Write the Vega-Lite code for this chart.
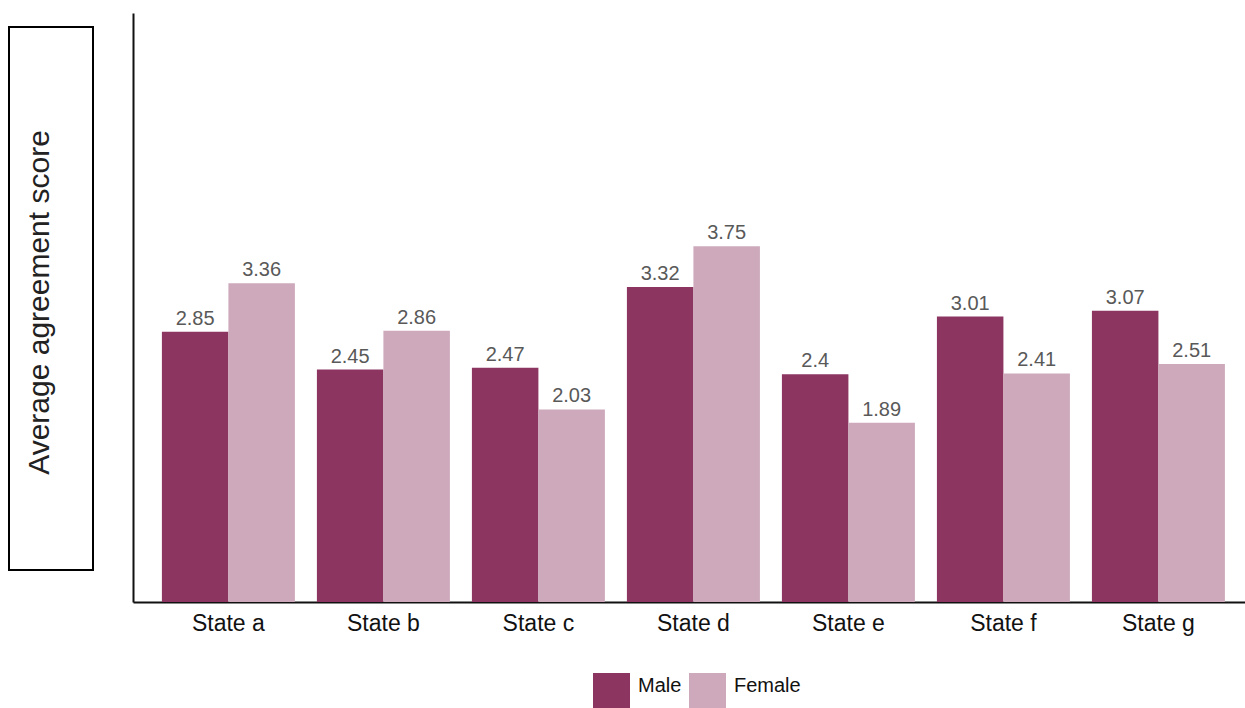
{
  "$schema": "https://vega.github.io/schema/vega-lite/v6.json",
  "padding": {"left": 8, "top": 13, "right": 0, "bottom": 0},
  "background": "white",
  "config": {
    "font": "Liberation Sans",
    "view": {"stroke": null},
    "concat": {"spacing": 39}
  },
  "datasets": {
    "scores": [
      {"state": "State a", "sex": "Male", "score": 2.85},
      {"state": "State a", "sex": "Female", "score": 3.36},
      {"state": "State b", "sex": "Male", "score": 2.45},
      {"state": "State b", "sex": "Female", "score": 2.86},
      {"state": "State c", "sex": "Male", "score": 2.47},
      {"state": "State c", "sex": "Female", "score": 2.03},
      {"state": "State d", "sex": "Male", "score": 3.32},
      {"state": "State d", "sex": "Female", "score": 3.75},
      {"state": "State e", "sex": "Male", "score": 2.4},
      {"state": "State e", "sex": "Female", "score": 1.89},
      {"state": "State f", "sex": "Male", "score": 3.01},
      {"state": "State f", "sex": "Female", "score": 2.41},
      {"state": "State g", "sex": "Male", "score": 3.07},
      {"state": "State g", "sex": "Female", "score": 2.51}
    ],
    "ytitle": [{"label": "Average agreement score"}]
  },
  "hconcat": [
    {
      "spacing": 12,
      "vconcat": [
        {
          "width": 84,
          "height": 1,
          "data": {"values": []},
          "mark": {"type": "text", "text": ""},
          "encoding": {}
        },
        {
          "width": 84,
          "height": 543,
          "view": {"stroke": "black", "strokeWidth": 2},
          "data": {"name": "ytitle"},
          "mark": {"type": "text", "angle": 270, "align": "center", "baseline": "alphabetic", "fontSize": 30, "color": "#222222", "dx": -4, "dy": -2},
          "encoding": {"text": {"field": "label", "type": "nominal"}}
        }
      ]
    },
    {
      "width": 1112,
      "height": 589,
      "data": {"name": "scores"},
      "encoding": {
        "x": {
          "field": "state", "type": "nominal", "title": null,
          "scale": {"paddingInner": 0.142, "paddingOuter": 0.158, "align": 0.59},
          "axis": {"domainColor": "#111111", "domainWidth": 2, "ticks": false, "labelAngle": 0, "labelFontSize": 23, "labelColor": "#111111", "labelPadding": 10}
        },
        "xOffset": {"field": "sex", "type": "nominal", "sort": ["Male", "Female"], "scale": {"paddingInner": 0, "paddingOuter": 0}},
        "y": {
          "field": "score", "type": "quantitative", "title": null,
          "scale": {"domain": [0, 6.21], "nice": false, "zero": true},
          "axis": {"domainColor": "#111111", "domainWidth": 2, "ticks": false, "labels": false, "grid": false}
        }
      },
      "layer": [
        {
          "mark": {"type": "bar"},
          "encoding": {
            "color": {
              "field": "sex", "type": "nominal", "sort": ["Male", "Female"],
              "scale": {"domain": ["Male", "Female"], "range": ["#8B3560", "#CDA9BB"]},
              "legend": {
                "title": null, "orient": "none", "direction": "horizontal",
                "legendX": 584, "legendY": 660, "padding": 0,
                "symbolType": "square", "symbolSize": 1369, "symbolStrokeWidth": 0, "symbolOpacity": 1,
                "labelFontSize": 20, "labelColor": "#111111", "labelOffset": 8, "labelBaseline": "alphabetic", "columnPadding": 7
              }
            }
          }
        },
        {
          "mark": {"type": "text", "baseline": "alphabetic", "dy": -7, "fontSize": 20, "color": "#595959"},
          "encoding": {"text": {"field": "score", "type": "quantitative"}}
        }
      ]
    }
  ]
}
